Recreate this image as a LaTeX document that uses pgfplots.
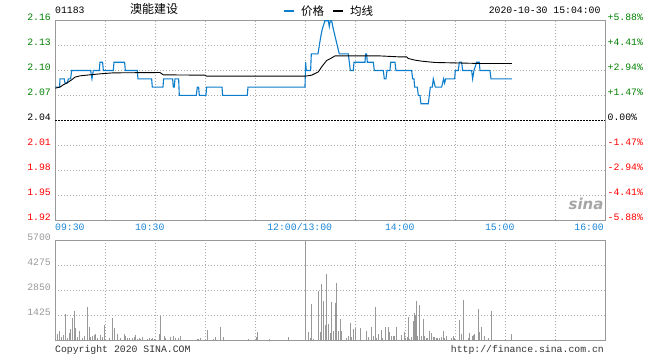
\documentclass[border=0pt]{standalone}
\usepackage{pgfplots}
\pgfplotsset{compat=1.18}
\usepackage{fontspec}
\setmainfont{Liberation Sans}
\newfontfamily\monof{Liberation Mono}
\newfontfamily\cjk{Noto Sans CJK SC}
\newfontfamily\logof{DejaVu Sans}
\definecolor{pblue}{HTML}{0A7DCC}
\definecolor{xblue}{HTML}{1A86D6}
\definecolor{ggreen}{HTML}{008000}
\definecolor{gridc}{HTML}{AAAAAA}
\definecolor{framec}{HTML}{999999}
\definecolor{volc}{HTML}{999999}
\newcommand\mf{\monof\fontsize{9.8}{10}\selectfont}
\pgfplotsset{base/.style={scale only axis, width=550pt, xmin=0, xmax=330,
  axis line style={framec, line width=0.9pt}, major tick length=0pt, tick style={draw=none},
  grid style={gridc, dash pattern=on 1pt off 2pt, line width=0.9pt},
  xtick={30,60,...,300}, xticklabels={}, xmajorgrids}}
\begin{document}
\begin{tikzpicture}
\path[use as bounding box] (0pt,0pt) rectangle (660pt,360pt);
% price panel
\begin{axis}[base, at={(55.3pt,140pt)}, anchor=south west, height=199.3pt,
  ymin=1.92, ymax=2.16, ymajorgrids,
  ytick={1.92,1.95,1.98,2.01,2.07,2.10,2.13,2.16},
  yticklabels={{\color{red}1.92},{\color{red}1.95},{\color{red}1.98},{\color{red}2.01},{\color{ggreen}2.07},{\color{ggreen}2.10},{\color{ggreen}2.13},{\color{ggreen}2.16}},
  extra y ticks={2.04}, extra y tick labels={2.04},
  extra y tick style={grid style={black, dash pattern=on 2pt off 1pt, line width=0.8pt}},
  yticklabel style={font=\mf, anchor=east, inner sep=0pt, xshift=-4.3pt, yshift=3pt},
  legend style={at={(0.4140,1.0487)}, anchor=west, draw=none, fill=none, inner sep=0pt, outer sep=0pt,
    legend columns=2, font=\cjk\fontsize{11.5}{12}\selectfont, nodes={inner sep=0pt},
    /tikz/every odd column/.append style={column sep=5.5pt},
    /tikz/every even column/.append style={column sep=8pt}},
  legend image code/.code={\draw[#1, line width=2.5pt] (0pt,0pt) -- (10pt,0pt);},
]
\addplot[pblue, line width=1.1pt, sharp plot, no markers] coordinates {
(0,2.08)(2.6,2.08)(2.8,2.09)(5.4,2.09)(5.8,2.085)(7.2,2.085)(7.8,2.09)(9.2,2.09)(9.8,2.10)
(21.2,2.10)(22.0,2.09)(22.8,2.10)(26.4,2.10)(26.8,2.11)(28.4,2.11)(28.8,2.10)(34.8,2.10)
(35.2,2.11)(41.6,2.11)(42.0,2.10)(49.2,2.10)(49.6,2.09)(57.8,2.09)(58.2,2.08)(64.6,2.08)
(65.0,2.09)(70.4,2.09)(70.8,2.08)(71.4,2.08)(71.8,2.09)(74.0,2.09)(74.4,2.07)(84.6,2.07)
(85.2,2.08)(86.0,2.08)(86.4,2.07)(90.4,2.07)(90.8,2.08)(100.0,2.08)(100.4,2.07)(115.2,2.07)
(115.6,2.08)(149.8,2.08)(150.2,2.11)(150.6,2.10)(153.2,2.10)(153.6,2.12)(157.6,2.12)
(158.4,2.13)(159.2,2.14)(160.2,2.15)(161.8,2.16)(163.8,2.16)(164.4,2.153)(165.0,2.16)
(165.8,2.16)(166.8,2.15)(168.0,2.14)(169.2,2.13)(170.4,2.12)(175.8,2.12)(176.4,2.11)
(177.0,2.10)(178.8,2.10)(179.2,2.11)(185.8,2.11)(186.2,2.12)(186.8,2.12)(187.2,2.11)
(190.8,2.11)(191.4,2.10)(196.8,2.10)(197.4,2.09)(198.4,2.09)(199.0,2.10)(200.8,2.10)
(201.2,2.11)(203.8,2.11)(204.4,2.10)(213.8,2.10)(214.4,2.09)(215.2,2.09)(215.6,2.08)
(217.2,2.08)(217.8,2.07)(218.8,2.07)(219.4,2.06)(223.8,2.06)(224.4,2.07)(225.0,2.08)
(226.2,2.08)(226.8,2.09)(227.4,2.085)(228.0,2.08)(231.8,2.08)(232.4,2.085)(233.0,2.09)
(233.6,2.085)(234.2,2.09)(239.6,2.09)(240.0,2.10)(241.8,2.10)(242.4,2.11)(243.8,2.11)
(244.4,2.10)(249.8,2.10)(250.4,2.09)(251.2,2.10)(252.8,2.11)(254.4,2.11)(254.8,2.10)
(260.8,2.10)(261.4,2.09)(274,2.09)
};
\addlegendentry{价格}
\addplot[black, line width=0.9pt, sharp plot, no markers] coordinates {
(0,2.0788)(2.8,2.08)(4.8,2.0828)(6.8,2.0848)(9.8,2.0888)(11.8,2.092)(14.8,2.0936)
(20.8,2.0948)(26.8,2.096)(34.8,2.0972)(62.8,2.0976)(64.8,2.0948)(89.8,2.0944)(90.8,2.0932)
(150,2.0932)(153.8,2.0944)(157.8,2.0984)(159.8,2.1044)(162.8,2.112)(165.8,2.1152)
(167.8,2.1176)(194.8,2.1176)(206.8,2.1164)(210.8,2.1164)(211.8,2.1145)(215.8,2.1125)
(219.8,2.1113)(227.8,2.1097)(254.8,2.1085)(274,2.1085)
};
\addlegendentry{均线}
\end{axis}
% right percentage axis
\begin{axis}[scale only axis, width=550pt, height=199.3pt, at={(55.3pt,140pt)}, anchor=south west,
  xmin=0, xmax=330, ymin=1.92, ymax=2.16, hide x axis, axis y line*=right,
  axis line style={framec, line width=0.9pt}, major tick length=0pt, tick style={draw=none},
  ytick={1.92,1.95,1.98,2.01,2.04,2.07,2.10,2.13,2.16},
  yticklabels={{\color{red}-5.88\%},{\color{red}-4.41\%},{\color{red}-2.94\%},{\color{red}-1.47\%},{0.00\%},{\color{ggreen}+1.47\%},{\color{ggreen}+2.94\%},{\color{ggreen}+4.41\%},{\color{ggreen}+5.88\%}},
  yticklabel style={font=\mf, anchor=west, inner sep=0pt, xshift=2.2pt, yshift=3pt}]
\end{axis}
% volume panel
\begin{axis}[base, at={(55.3pt,20pt)}, anchor=south west, height=100pt,
  ymin=0, ymax=5700, ytick={1425,2850,4275,5700}, ymajorgrids, scaled y ticks=false,
  yticklabels={1425,2850,4275,5700},
  yticklabel style={font=\mf, color=framec, anchor=east, inner sep=0pt, xshift=-4.3pt, yshift=3pt}]
\addplot[ycomb, volc, line width=1pt, no markers] coordinates {
(1.2,342)(2.8,513)(4.0,171)(5.2,266)(6.0,1482)(7.2,114)(8.4,399)(9.0,646)(10.2,1254)(11.4,1653)
(12.0,684)(13.2,171)(14.4,513)(16.2,114)(17.4,228)(19.2,1881)(20.4,741)(21.0,171)(22.2,228)
(23.4,285)(24.0,342)(25.2,114)(27.0,285)(28.2,171)(29.4,855)(32.4,114)(34.2,1254)(35.4,684)
(37.2,342)(39.0,114)(41.4,342)(42.0,228)(43.2,114)(44.4,114)(46.2,114)(47.4,171)(48.0,285)
(49.2,57)(50.4,114)(51.0,57)(52.2,171)(55.2,57)(56.4,114)(57.6,57)(58.2,114)(59.4,57)
(62.4,342)(63.0,1368)(65.4,228)(66.0,114)(69.0,171)(70.8,228)(72.0,114)(73.8,114)(75.0,228)
(85.2,57)(85.8,57)(87.0,114)(91.2,570)(94.8,57)(96.0,171)(99.0,741)(100.8,171)
(115.8,57)(120.6,152)(121.2,475)(128.8,57)(139.8,152)
(150,5700)(151.8,437)(153,114)(153.6,2033)(154.8,57)(157.8,2793)(159,437)(159.6,3192)
(160.8,2223)(162,855)(162.6,3762)(163.8,912)(165,399)(165.6,2166)(166.8,513)(168,2109)
(168.6,3249)(169.8,513)(171,1197)(171.6,513)(174.6,114)(175.8,228)(177,969)(177.6,171)
(178.8,627)(180,684)(183,684)(186.6,513)(187.8,171)(189.6,741)(190.8,228)(192,1881)
(192.6,114)(193.8,342)(195.6,570)(196.2,114)(198,741)(199.8,741)(200.4,456)(201.6,228)
(202.8,228)(203.4,228)(204.6,741)(207.6,285)(209.4,456)(210,114)(211.2,171)(211.8,1311)
(212.4,57)(213.6,171)(214.8,1083)(215.4,1539)(216,1425)(216.6,2223)(217.2,228)(218.4,1995)
(219.6,228)(220.8,1197)(221.4,228)(222.6,114)(223.2,114)(224.4,513)(225.6,399)(226.8,171)
(227.4,171)(228.6,114)(229.2,114)(230.4,114)(231.6,171)(232.8,513)(233.4,114)(234.6,228)
(237.6,114)(238.8,228)(239.4,114)(242.4,1140)(243.6,342)(244.8,2280)(247.8,114)(248.4,399)
(250.2,228)(250.8,285)(251.4,342)(253.8,1767)(254.4,456)(255.6,741)(257.4,228)(259.8,114)
(261.6,1653)(273.6,342)
};
\end{axis}
% texts
\node[anchor=base west, inner sep=0pt, font=\mf] at (55pt,346.7pt) {01183};
\node[anchor=west, inner sep=0pt, font=\cjk\fontsize{12}{12}\selectfont] at (130pt,351.3pt) {澳能建设};
\node[anchor=base east, inner sep=0pt, font=\mf] at (600.7pt,346.7pt) {2020-10-30 15:04:00};
\begin{scope}[every node/.style={inner sep=0pt, font=\mf, text=xblue}]
\node[anchor=base west] at (55pt,129.3pt) {09:30};
\node[anchor=base] at (149.7pt,129.3pt) {10:30};
\node[anchor=base] at (299.7pt,129.3pt) {12:00/13:00};
\node[anchor=base] at (399.7pt,129.3pt) {14:00};
\node[anchor=base] at (499.7pt,129.3pt) {15:00};
\node[anchor=base east] at (604pt,129.3pt) {16:00};
\end{scope}
\node[anchor=base west, inner sep=0pt, font=\mf, text=black!80] at (55pt,7.3pt) {Copyright 2020 SINA.COM};
\node[anchor=base east, inner sep=0pt, font=\mf, text=black!80] at (604pt,7.3pt) {http://finance.sina.com.cn};
\node[anchor=base, inner sep=0pt, font=\logof\bfseries\itshape\fontsize{15}{15}\selectfont, text=black!35] at (586pt,150.5pt) {sina};
\end{tikzpicture}
\end{document}
